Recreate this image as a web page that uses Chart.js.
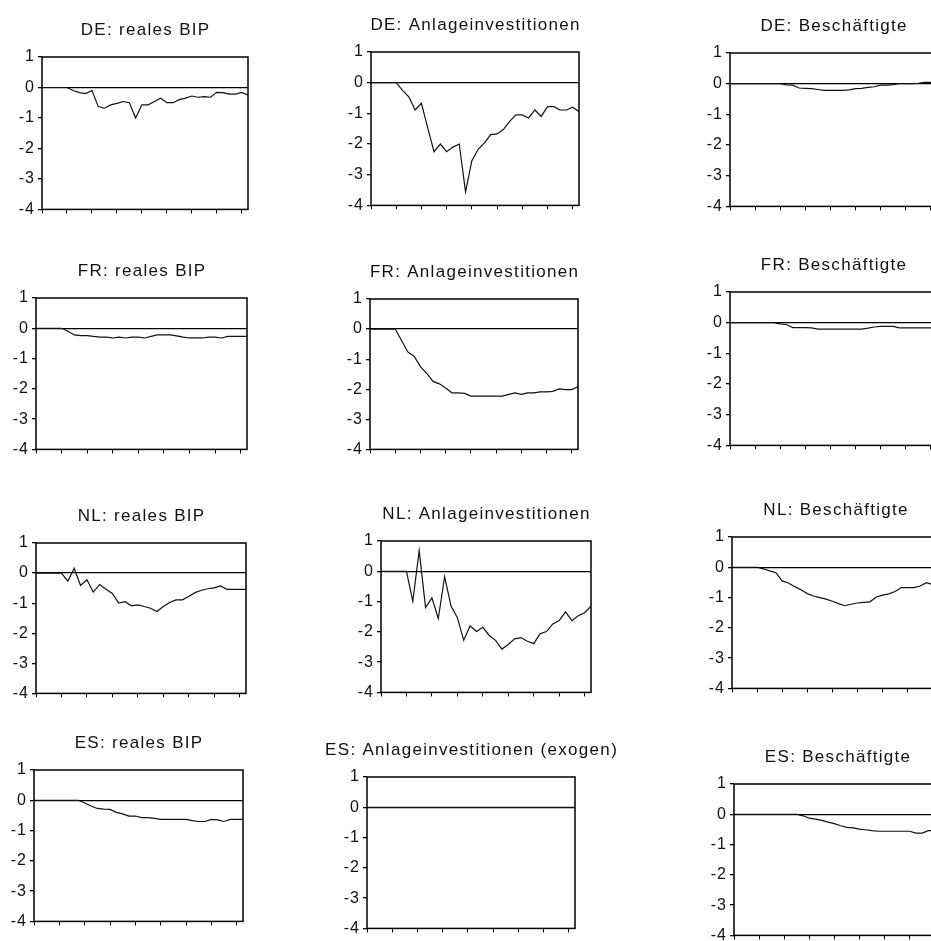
<!DOCTYPE html>
<html>
<head>
<meta charset="utf-8">
<script src="https://cdn.jsdelivr.net/npm/chart.js@4/dist/chart.umd.min.js"></script>
<style>
  html, body { margin: 0; padding: 0; background: #fff; overflow: hidden; }
  #page { position: relative; width: 931px; height: 941px; overflow: hidden; background: #fff; }
  #page canvas { position: absolute; }
</style>
</head>
<body>
<div id="page"></div>
<script>
// quarters after the shock, x axis ticks once a year
const QUARTERS = [0, 1, 2, 3, 4, 5, 6, 7, 8, 9, 10, 11, 12, 13, 14, 15, 16, 17, 18, 19, 20, 21, 22, 23, 24, 25, 26, 27, 28, 29, 30, 31, 32, 33];
const X_TICKS = [0, 4, 8, 12, 16, 20, 24, 28, 32];
const Y_TICKS = [1, 0, -1, -2, -3, -4];

const TITLES = [
  "DE: reales BIP", "DE: Anlageinvestitionen", "DE: Beschäftigte",
  "FR: reales BIP", "FR: Anlageinvestitionen", "FR: Beschäftigte",
  "NL: reales BIP", "NL: Anlageinvestitionen", "NL: Beschäftigte",
  "ES: reales BIP", "ES: Anlageinvestitionen (exogen)", "ES: Beschäftigte"
];

const DE_BIP = [0, 0, 0, 0, 0, -0.1, -0.17, -0.2, -0.1, -0.62, -0.68, -0.57, -0.52, -0.46, -0.5, -1.0, -0.57, -0.57, -0.46, -0.35, -0.5, -0.5, -0.4, -0.35, -0.28, -0.32, -0.3, -0.32, -0.16, -0.17, -0.22, -0.22, -0.16, -0.25];
const DE_INV = [0, 0, 0, 0, 0, -0.25, -0.46, -0.89, -0.67, -1.47, -2.25, -2.0, -2.25, -2.1, -2.0, -3.56, -2.54, -2.17, -1.96, -1.69, -1.67, -1.53, -1.26, -1.05, -1.05, -1.15, -0.89, -1.1, -0.78, -0.78, -0.89, -0.89, -0.8, -0.94];
const DE_EMP = [0, 0, 0, 0, 0, 0, 0, 0, 0, -0.04, -0.05, -0.14, -0.15, -0.16, -0.19, -0.22, -0.22, -0.22, -0.22, -0.2, -0.16, -0.15, -0.12, -0.1, -0.05, -0.05, -0.03, 0, 0, 0, 0.01, 0.04, 0.04, 0.04];

const FR_BIP = [0, 0, 0, 0, 0, -0.1, -0.22, -0.24, -0.24, -0.27, -0.29, -0.29, -0.32, -0.29, -0.32, -0.29, -0.29, -0.32, -0.27, -0.22, -0.22, -0.22, -0.25, -0.29, -0.32, -0.32, -0.32, -0.29, -0.29, -0.32, -0.27, -0.27, -0.27, -0.27];
const FR_INV = [0, 0, 0, 0, 0, -0.38, -0.76, -0.9, -1.25, -1.47, -1.74, -1.82, -1.96, -2.12, -2.12, -2.14, -2.23, -2.23, -2.23, -2.23, -2.23, -2.23, -2.17, -2.12, -2.17, -2.12, -2.12, -2.09, -2.09, -2.07, -1.99, -2.01, -2.01, -1.92];
const FR_EMP = [0, 0, 0, 0, 0, 0, 0, 0, -0.04, -0.06, -0.16, -0.16, -0.16, -0.17, -0.21, -0.21, -0.21, -0.21, -0.21, -0.21, -0.21, -0.21, -0.18, -0.14, -0.12, -0.12, -0.12, -0.17, -0.17, -0.17, -0.17, -0.17, -0.17, -0.17];

const NL_BIP = [0, 0, 0, 0, 0, -0.27, 0.16, -0.41, -0.22, -0.63, -0.38, -0.54, -0.68, -1.0, -0.95, -1.09, -1.06, -1.11, -1.17, -1.28, -1.11, -0.98, -0.89, -0.89, -0.78, -0.65, -0.57, -0.52, -0.49, -0.43, -0.54, -0.54, -0.54, -0.54];
const NL_INV = [0, 0, 0, 0, 0, -0.99, 0.68, -1.2, -0.88, -1.56, -0.18, -1.15, -1.53, -2.28, -1.8, -1.99, -1.85, -2.12, -2.28, -2.57, -2.42, -2.23, -2.19, -2.31, -2.39, -2.06, -1.99, -1.74, -1.63, -1.34, -1.63, -1.47, -1.37, -1.15];
const NL_EMP = [0, 0, 0, 0, 0, -0.05, -0.12, -0.18, -0.45, -0.52, -0.64, -0.74, -0.87, -0.95, -1.0, -1.05, -1.12, -1.2, -1.27, -1.22, -1.18, -1.16, -1.14, -0.98, -0.92, -0.88, -0.8, -0.67, -0.67, -0.67, -0.62, -0.51, -0.57, -0.57];

const ES_BIP = [0, 0, 0, 0, 0, 0, 0, 0, -0.09, -0.19, -0.27, -0.29, -0.3, -0.4, -0.45, -0.52, -0.52, -0.57, -0.57, -0.6, -0.63, -0.63, -0.63, -0.63, -0.63, -0.67, -0.7, -0.7, -0.63, -0.65, -0.7, -0.63, -0.63, -0.63];
const ES_INV = [0, 0, 0, 0, 0, 0, 0, 0, 0, 0, 0, 0, 0, 0, 0, 0, 0, 0, 0, 0, 0, 0, 0, 0, 0, 0, 0, 0, 0, 0, 0, 0, 0, 0];
const ES_EMP = [0, 0, 0, 0, 0, 0, 0, 0, 0, 0, 0, -0.05, -0.13, -0.16, -0.2, -0.26, -0.31, -0.38, -0.43, -0.45, -0.49, -0.51, -0.54, -0.56, -0.56, -0.56, -0.56, -0.56, -0.56, -0.62, -0.62, -0.54, -0.54, -0.54];

const SERIES = [
  DE_BIP, DE_INV, DE_EMP,
  FR_BIP, FR_INV, FR_EMP,
  NL_BIP, NL_INV, NL_EMP,
  ES_BIP, ES_INV, ES_EMP
];

// plot frame of each panel on the page: left, top (y=1), right, bottom (y=-4)
const PLOT_BOXES = [
  [42, 57, 248, 212], [371, 52, 579, 208], [730, 53, 937, 209],
  [36, 298, 247, 452], [370, 299, 578, 452], [730, 292, 937, 448],
  [36, 543, 246, 696], [381, 541, 591, 695], [732, 537, 939, 691],
  [34, 770, 243, 924], [367, 777, 575, 931], [734, 784, 941, 938]
];

const AXIS_W = 40;
const TITLE_H = 41;
const XAXIS_H = 8;
const SIDE = 60;   // spare room left/right so long titles are not cut
const PAD_R = 3;
const PAD_B = 2;
const FONT = '"Liberation Sans", Arial, sans-serif';

// box round the plot + panel title above it
const framePlugin = {
  id: "frame",
  beforeDraw(chart) {
    chart.ctx.letterSpacing = "1px";
  },
  afterDraw(chart, args, opts) {
    const { ctx, chartArea: a } = chart;
    ctx.save();
    ctx.strokeStyle = "#000";
    ctx.lineWidth = 1.5;
    ctx.strokeRect(a.left, a.top, a.right - a.left, a.bottom - a.top);
    ctx.font = "17px " + FONT;
    ctx.letterSpacing = "1.3px";
    ctx.fillStyle = "#111";
    ctx.textAlign = "center";
    ctx.textBaseline = "middle";
    ctx.fillText(opts.title, (a.left + a.right) / 2 + 0.6, a.top - 27);
    ctx.restore();
  }
};

const page = document.getElementById("page");

SERIES.forEach((values, i) => {
  const [L, T, R, B] = PLOT_BOXES[i];
  const canvas = document.createElement("canvas");
  canvas.width = R - L + AXIS_W + PAD_R + 2 * SIDE;
  canvas.height = B - T + TITLE_H + XAXIS_H + PAD_B;
  canvas.style.left = (L - AXIS_W - SIDE) + "px";
  canvas.style.top = (T - TITLE_H) + "px";
  page.appendChild(canvas);

  new Chart(canvas, {
    type: "line",
    data: {
      labels: QUARTERS,
      datasets: [{
        data: values,
        borderColor: "#111",
        borderWidth: 1.2,
        pointRadius: 0,
        tension: 0,
        fill: false
      }]
    },
    options: {
      responsive: false,
      animation: false,
      events: [],
      layout: { padding: { top: TITLE_H, right: PAD_R + SIDE, bottom: PAD_B, left: SIDE } },
      plugins: {
        legend: { display: false },
        tooltip: { enabled: false },
        frame: { title: TITLES[i] }
      },
      scales: {
        x: {
          type: "linear",
          min: 0,
          max: 33,
          afterBuildTicks: scale => { scale.ticks = X_TICKS.map(v => ({ value: v })); },
          afterFit: scale => { scale.height = XAXIS_H; },
          border: { display: false },
          grid: { drawOnChartArea: false, drawTicks: true, tickLength: 4, tickColor: "#000", lineWidth: 1 },
          ticks: { callback: () => "" }
        },
        y: {
          min: -4,
          max: 1,
          afterBuildTicks: scale => { scale.ticks = Y_TICKS.map(v => ({ value: v })); },
          afterFit: scale => { scale.width = AXIS_W; },
          border: { display: false },
          grid: {
            color: c => (c.tick && c.tick.value === 0 ? "#000" : "rgba(0,0,0,0)"),
            lineWidth: 1.3,
            tickLength: 4,
            tickColor: "#000"
          },
          ticks: {
            color: "#111",
            padding: 3,
            font: { family: FONT, size: 16 },
            callback: v => String(v)
          }
        }
      }
    },
    plugins: [framePlugin]
  });
});
</script>
</body>
</html>
